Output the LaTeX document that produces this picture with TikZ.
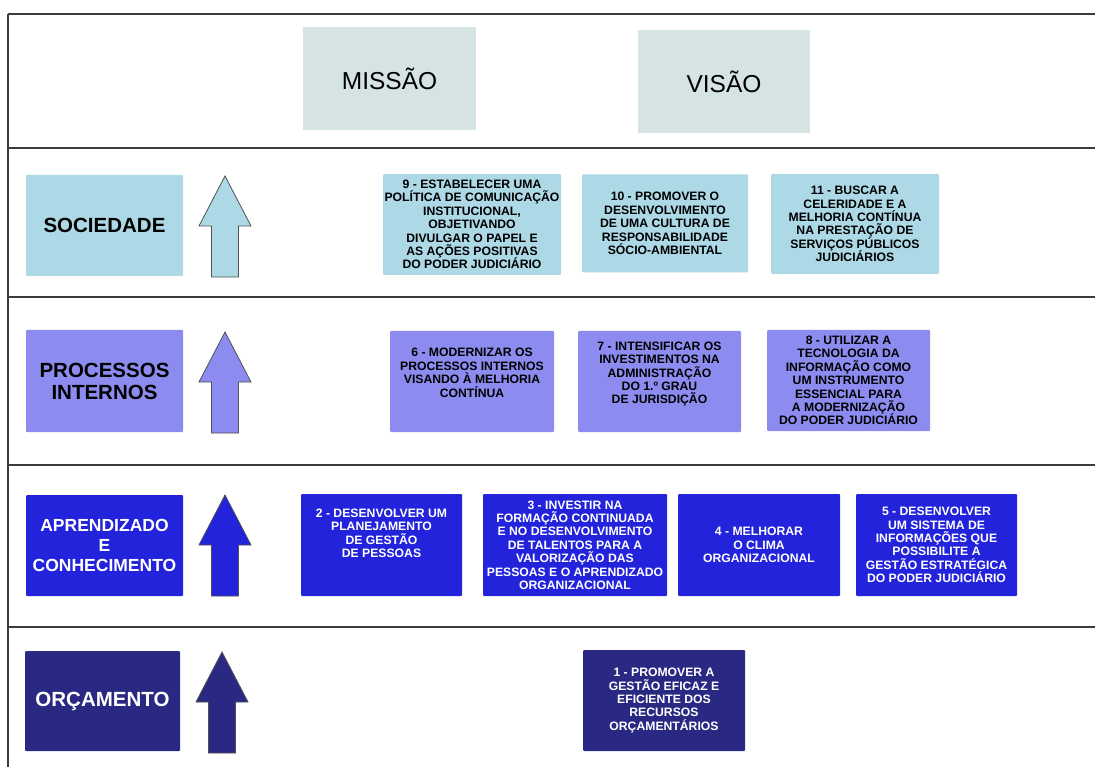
\documentclass[tikz,border=0pt]{standalone}
\usepackage{fontspec}
\setmainfont{Liberation Sans}
\usepackage{tikz}
\usetikzlibrary{positioning, calc}
\definecolor{mvcolor}{RGB}{213,227,227}
\definecolor{sociedadecolor}{RGB}{173,216,230}
\definecolor{processoscolor}{RGB}{140,140,240}
\definecolor{aprendizadocolor}{RGB}{35,35,220}
\definecolor{orcamentocolor}{RGB}{41,41,131}
\definecolor{framecolor}{RGB}{60,60,60}

% seta de nivel: cor, x da ponta, y da ponta
\newcommand{\levelarrow}[3]{%
    \draw[arrowline, fill=#1] (#2,#3) -- ++(26,50) -- ++(-12.5,0) -- ++(0,51)
        -- ++(-27,0) -- ++(0,-51) -- ++(-12.5,0) -- cycle;
}

\begin{document}
\begin{tikzpicture}[x=1pt, y=-1pt,
    frame/.style={draw=framecolor, line width=1.4pt},
    arrowline/.style={draw=framecolor!90, line width=0.8pt},
    mvbox/.style={rectangle, fill=mvcolor, minimum width=173pt, minimum height=103pt, font=\fontsize{24.5}{26}\selectfont},
    lblbox/.style={rectangle, rounded corners=1pt, minimum width=157pt, minimum height=101pt, align=center, inner sep=1pt},
    objbox/.style={rectangle, rounded corners=1pt, minimum height=101pt, align=center, inner sep=1pt, font=\bfseries\fontsize{12.2}{13.4}\selectfont}
]
    \useasboundingbox (0,0) rectangle (1095,767);

    % === MOLDURA ===
    \foreach \y in {14,148,297,465,627}
        \draw[frame] (8,\y) -- (1095,\y);
    \draw[frame] (8,14) -- (8,767);

    % === MISSAO E VISAO ===
    \node[mvbox] (missao) at (389.5,78.5) {MISSÃO};
    \node[mvbox, minimum width=172pt] (visao) at (724,81.5) {VISÃO};

    % === SOCIEDADE ===
    \node[lblbox, fill=sociedadecolor, font=\bfseries\fontsize{20.5}{22}\selectfont] (sociedade) at (104.5,225.5) {SOCIEDADE};
    \levelarrow{sociedadecolor}{225}{176}
    \node[objbox, fill=sociedadecolor, minimum width=178pt] (obj9) at (472,224.5) {
        9 - ESTABELECER UMA\\
        POLÍTICA DE COMUNICAÇÃO\\
        INSTITUCIONAL,\\
        OBJETIVANDO\\
        DIVULGAR O PAPEL E\\
        AS AÇÕES POSITIVAS\\
        DO PODER JUDICIÁRIO
    };
    \node[objbox, fill=sociedadecolor, minimum width=166pt, minimum height=98pt] (obj10) at (665,223.5) {
        10 - PROMOVER O\\
        DESENVOLVIMENTO\\
        DE UMA CULTURA DE\\
        RESPONSABILIDADE\\
        SÓCIO-AMBIENTAL
    };
    \node[objbox, fill=sociedadecolor, minimum width=168pt, minimum height=100pt] (obj11) at (855,224) {
        11 - BUSCAR A\\
        CELERIDADE E A\\
        MELHORIA CONTÍNUA\\
        NA PRESTAÇÃO DE\\
        SERVIÇOS PÚBLICOS\\
        JUDICIÁRIOS
    };

    % === PROCESSOS INTERNOS ===
    \node[lblbox, fill=processoscolor, minimum height=102pt, font=\bfseries\fontsize{20.5}{22}\selectfont] (processos) at (104.5,381) {PROCESSOS\\INTERNOS};
    \levelarrow{processoscolor}{225}{332}
    \node[objbox, fill=processoscolor, minimum width=164pt] (obj6) at (472,381.5) {
        6 - MODERNIZAR OS\\
        PROCESSOS INTERNOS\\
        VISANDO À MELHORIA\\
        CONTÍNUA\\[4pt]
    };
    \node[objbox, fill=processoscolor, minimum width=163pt] (obj7) at (659.5,381.5) {
        7 - INTENSIFICAR OS\\
        INVESTIMENTOS NA\\
        ADMINISTRAÇÃO\\
        DO 1.º GRAU\\
        DE JURISDIÇÃO\\[4pt]
    };
    \node[objbox, fill=processoscolor, minimum width=163pt] (obj8) at (848.5,380.5) {
        8 - UTILIZAR A\\
        TECNOLOGIA DA\\
        INFORMAÇÃO COMO\\
        UM INSTRUMENTO\\
        ESSENCIAL PARA\\
        A MODERNIZAÇÃO\\
        DO PODER JUDICIÁRIO
    };

    % === APRENDIZADO E CONHECIMENTO ===
    \node[lblbox, fill=aprendizadocolor, text=white, font=\bfseries\fontsize{17.5}{20}\selectfont] (aprendizado) at (104.5,545.5) {APRENDIZADO\\E\\CONHECIMENTO};
    \levelarrow{aprendizadocolor}{225}{495}
    \node[objbox, fill=aprendizadocolor, text=white, minimum width=161pt, minimum height=102pt] (obj2) at (381.5,545) {
        2 - DESENVOLVER UM\\
        PLANEJAMENTO\\
        DE GESTÃO\\
        DE PESSOAS\\[10pt]
    };
    \node[objbox, fill=aprendizadocolor, text=white, minimum width=184pt, minimum height=102pt] (obj3) at (575,545) {
        3 - INVESTIR NA\\
        FORMAÇÃO CONTINUADA\\
        E NO DESENVOLVIMENTO\\
        DE TALENTOS PARA A\\
        VALORIZAÇÃO DAS\\
        PESSOAS E O APRENDIZADO\\
        ORGANIZACIONAL
    };
    \node[objbox, fill=aprendizadocolor, text=white, minimum width=162pt, minimum height=102pt] (obj4) at (759,545) {
        4 - MELHORAR\\
        O CLIMA\\
        ORGANIZACIONAL
    };
    \node[objbox, fill=aprendizadocolor, text=white, minimum width=161pt, minimum height=102pt] (obj5) at (936.5,545) {
        5 - DESENVOLVER\\
        UM SISTEMA DE\\
        INFORMAÇÕES QUE\\
        POSSIBILITE A\\
        GESTÃO ESTRATÉGICA\\
        DO PODER JUDICIÁRIO
    };

    % === ORCAMENTO ===
    \node[lblbox, fill=orcamentocolor, text=white, minimum width=155pt, minimum height=100pt, font=\bfseries\fontsize{20.5}{22}\selectfont] (orcamento) at (102.5,701) {ORÇAMENTO};
    \levelarrow{orcamentocolor}{222}{652}
    \node[objbox, fill=orcamentocolor, text=white, minimum width=162pt] (obj1) at (664,700.5) {
        1 - PROMOVER A\\
        GESTÃO EFICAZ E\\
        EFICIENTE DOS\\
        RECURSOS\\
        ORÇAMENTÁRIOS
    };

\end{tikzpicture}
\end{document}
